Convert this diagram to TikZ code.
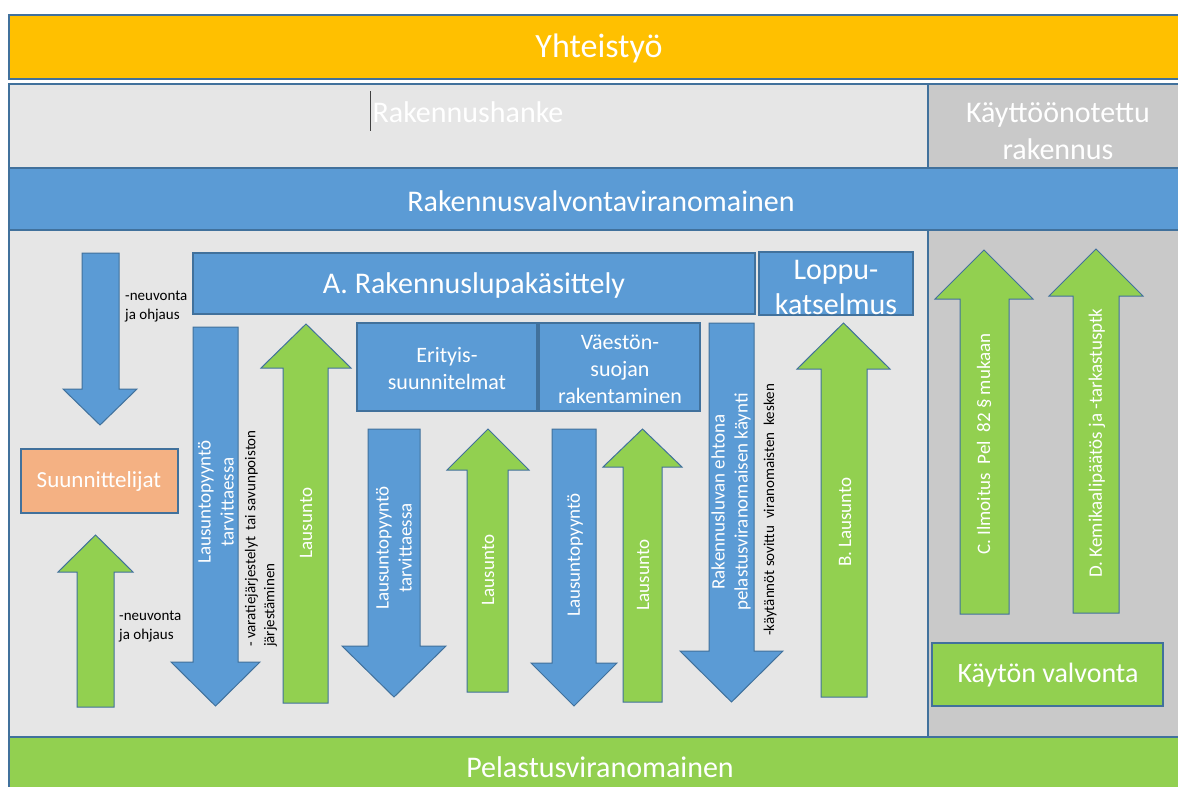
\documentclass[tikz,border=0pt]{standalone}
\usepackage{fontspec}
\setmainfont{Carlito}
\definecolor{bblue}{HTML}{5B9BD5}
\definecolor{bord}{HTML}{41719C}
\definecolor{ggreen}{HTML}{92D050}
\definecolor{yel}{HTML}{FFC000}
\definecolor{lgray}{HTML}{E6E6E6}
\definecolor{dgray}{HTML}{C9C9C9}
\definecolor{orng}{HTML}{F4B183}
\newcommand{\BlockArrow}[9]{% #1 style, #2 name, #3 xl, #4 xr, #5 yflat, #6 ybase, #7 hl, #8 hr, #9 ytip
  \draw[#1] (#3,#5) -- (#3,#6) -- (#7,#6) -- ({(#7+#8)/2},#9) coordinate (#2tip) -- (#8,#6) -- (#4,#6) -- (#4,#5) -- cycle;}
\tikzset{
  region/.style={draw=bord, line width=1.2pt},
  box/.style={draw=bord, line width=1.2pt, fill=bblue},
  barrow/.style={draw=bord, line width=1pt, fill=bblue},
  garrow/.style={draw=bord, line width=1pt, fill=ggreen},
  wtxt/.style={text=white, inner sep=0pt, align=center},
  f30/.style={font=\fontsize{30}{36}\selectfont},
  f28/.style={font=\fontsize{28}{35}\selectfont},
  f22/.style={font=\fontsize{22}{27}\selectfont},
  f19/.style={font=\fontsize{19}{23}\selectfont},
  f15/.style={font=\fontsize{15}{19}\selectfont},
  rot/.style={rotate=90, wtxt, f19},
}
\begin{document}
\begin{tikzpicture}[x=1pt,y=-1pt]
\useasboundingbox[fill=white] (0,0) rectangle (1178,787);
% bands
\draw[region, fill=yel] (9,15) rectangle (1190,79);
\draw[region, fill=lgray] (9,84) rectangle (928,168);
\draw[region, fill=dgray] (928,84) rectangle (1190,168);
\draw[region, fill=bblue] (9,168) rectangle (1190,230);
\draw[region, fill=lgray] (9,230) rectangle (928,737);
\draw[region, fill=dgray] (928,230) rectangle (1190,737);
\draw[region, fill=ggreen] (9,737) rectangle (1190,800);
\node[wtxt, font=\fontsize{34}{40}\selectfont] (yht) at (599,48) {Yhteistyö};
\node[wtxt, f30] (hanke) at (468,112) {Rakennushanke};
\draw[black!75, line width=0.8pt] (370,91) -- (370,131);
\node[wtxt, font=\fontsize{30}{37}\selectfont] (kayt) at (1058,131) {Käyttöönotettu\\rakennus};
\node[wtxt, f30] (rvv) at (601,201) {Rakennusvalvontaviranomainen};
\node[wtxt, f30] (pel) at (600,767) {Pelastusviranomainen};
% boxes
\draw[box] (193,253) rectangle (755,314);
\node[wtxt, f30] (A) at (474,285) {A. Rakennuslupakäsittely};
\draw[box] (357,323) rectangle (537,411);
\node[wtxt, f22] (eri) at (447,369) {Erityis-\\suunnitelmat};
\draw[box] (539,323) rectangle (700,411);
\node[wtxt, f22] (vae) at (620,369) {Väestön-\\suojan\\rakentaminen};
\draw[box] (759,252) rectangle (913,315);
\node[wtxt, font=\fontsize{30}{35}\selectfont] (loppu) at (836,287) {Loppu-\\katselmus};
\draw[box, fill=orng] (21,449) rectangle (178,513);
\node[wtxt, font=\fontsize{23}{27}\selectfont] (suun) at (99,481) {Suunnittelijat};
\draw[box, fill=ggreen] (932,643) rectangle (1163,706);
\node[wtxt, f28] (kv) at (1048,675) {Käytön valvonta};
% arrows
\BlockArrow{barrow}{a1}{82}{119}{253}{389}{63}{137}{425}
\BlockArrow{garrow}{a2}{77}{114}{707}{572}{58}{133}{535}
\BlockArrow{barrow}{a3}{193}{238}{327}{662}{171}{260}{706}
\BlockArrow{garrow}{a4}{283}{328}{703}{368}{261}{351}{324}
\BlockArrow{barrow}{a5}{368}{420}{429}{646}{342}{446}{697}
\BlockArrow{garrow}{a6}{467}{508}{692}{470}{447}{529}{429}
\BlockArrow{barrow}{a7}{552}{596}{429}{663}{531}{617}{706}
\BlockArrow{garrow}{a8}{623}{662}{702}{467}{603}{682}{429}
\BlockArrow{barrow}{a9}{709}{754}{323}{651}{680}{783}{702}
\BlockArrow{garrow}{a10}{821}{867}{697}{369}{797}{890}{323}
\BlockArrow{garrow}{a11}{960}{1009}{614}{299}{935}{1033}{250}
\BlockArrow{garrow}{a12}{1073}{1119}{613}{296}{1049}{1143}{249}
% arrow labels
\node[rot] (t1) at (216,502) {Lausuntopyyntö\\tarvittaessa};
\node[rot] (t2) at (306,523) {Lausunto};
\node[rot] (t3) at (394,548) {Lausuntopyyntö\\tarvittaessa};
\node[rot] (t4) at (488,570) {Lausunto};
\node[rot] (t5) at (575,555) {Lausuntopyyntö};
\node[rot] (t6) at (643,575) {Lausunto};
\node[rot] (t7) at (731,502) {Rakennusluvan ehtona\\pelastusviranomaisen käynti};
\node[rot] (t8) at (845,522) {B. Lausunto};
\node[rot] (t9) at (984,444) {C. Ilmoitus\ \ Pel\ \ 82 § mukaan};
\node[rot] (t10) at (1097,443) {D. Kemikaalipäätös ja -tarkastusptk};
% side notes
\node[f15, rotate=90, anchor=west, align=left, inner sep=0pt] (s1) at (261,647) {- varatiejärjestelyt\ \ tai savunpoiston\\järjestäminen};
\node[f15, rotate=90, inner sep=0pt] (s2) at (770,510) {-käytännöt sovittu\ \ viranomaisten\ \ kesken};
\node[f15, anchor=west, align=left, inner sep=0pt] (s3) at (125,307) {-neuvonta\\ja ohjaus};
\node[f15, anchor=west, align=left, inner sep=0pt] (s4) at (119,627) {-neuvonta\\ja ohjaus};
\end{tikzpicture}
\end{document}
